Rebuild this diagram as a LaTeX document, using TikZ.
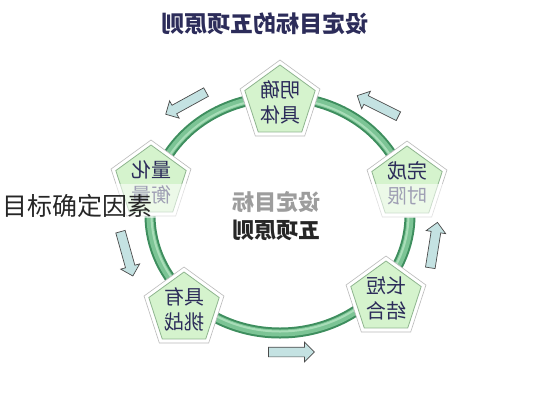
\documentclass[tikz,border=0pt]{standalone}
\usepackage{fontspec}
\newfontfamily\cjk{Noto Sans CJK SC}
\usetikzlibrary{shapes.geometric,shapes.arrows}
\definecolor{ringdark}{HTML}{3E8E5E}
\definecolor{ringmid}{HTML}{7CC495}
\definecolor{ringlight}{HTML}{A8DDB8}
\definecolor{pentfill}{HTML}{D5F3CD}
\definecolor{pentline}{HTML}{8FB58F}
\definecolor{navy}{HTML}{2C2C5A}
\definecolor{arrowfill}{HTML}{C4E2E2}
\definecolor{arrowline}{HTML}{4A4A4A}
\begin{document}
\begin{tikzpicture}[x=1pt,y=-1pt,
 pentout/.style={regular polygon, regular polygon sides=5, minimum size=84pt, inner sep=0pt, fill=white, draw=gray!55, line width=0.6pt},
 pentin/.style={regular polygon, regular polygon sides=5, minimum size=74pt, inner sep=0pt, fill=pentfill, draw=pentline, line width=0.8pt},
 penttext/.style={font=\cjk\fontsize{20}{25}\selectfont, text=navy, align=center, inner sep=0pt, xscale=-1, transform shape},
 blockarrow/.style={single arrow, fill=arrowfill, draw=arrowline, line width=0.7pt, minimum width=19pt, single arrow head extend=5pt, inner xsep=0pt, inner ysep=4.5pt, minimum height=46pt},
 ringband/.style={line width=#1},
]
\fill[white] (0,0) rectangle (533,400);
\useasboundingbox (0,0) rectangle (533,400);
% ring
\draw[ringdark, line width=11pt] (280,215) ellipse [x radius=130pt, y radius=118pt];
\draw[ringmid, line width=7pt] (280,215) ellipse [x radius=130pt, y radius=118pt];
\draw[ringlight, line width=2pt] (280,215) ellipse [x radius=128.5pt, y radius=116.5pt];
% title
\node[font=\cjk\bfseries\fontsize{23}{23}\selectfont, text=navy, xscale=-1, transform shape] (title) at (265,24) {设定目标的五项原则};
% pentagons
\node[pentout] (p1o) at (280,102) {};
\node[pentin] (p1) at (280,102) {};
\node[penttext] (t1) at (p1) {明确\\具体};
\node[pentout] (p2o) at (151,182) {};
\node[pentin] (p2) at (151,182) {};
\node[penttext] (t2) at (p2) {量化\\衡量};
\node[pentout] (p3o) at (407,183) {};
\node[pentin] (p3) at (407,183) {};
\node[penttext] (t3) at (p3) {完成\\时限};
\node[pentout] (p4o) at (184,309) {};
\node[pentin] (p4) at (184,309) {};
\node[penttext] (t4) at (p4) {具有\\挑战};
\node[pentout] (p5o) at (386,298) {};
\node[pentin] (p5) at (386,298) {};
\node[penttext] (t5) at (p5) {长短\\结合};
% arrows
\node[blockarrow, rotate=208.8] (a1) at (188,102) {};
\node[blockarrow, rotate=153.4] (a2) at (380,107) {};
\node[blockarrow, rotate=81] (a3) at (433.5,247.5) {};
\node[blockarrow, rotate=0] (a4) at (289,352) {};
\node[blockarrow, rotate=-74.4] (a5) at (126,251.5) {};
% centre text
\node[font=\cjk\bfseries\fontsize{22}{28}\selectfont, text=black!85, align=center, xscale=-1, transform shape] (ctr) at (276,216) {设定目标\\五项原则};
% fade band
\fill[white, opacity=0.55] (0,184) rectangle (533,218);
% overlay label
\node[font=\cjk\fontsize{25}{25}\selectfont, text=black!85, anchor=west, inner sep=0pt] (lbl) at (2,206) {目标确定因素};
\end{tikzpicture}
\end{document}
